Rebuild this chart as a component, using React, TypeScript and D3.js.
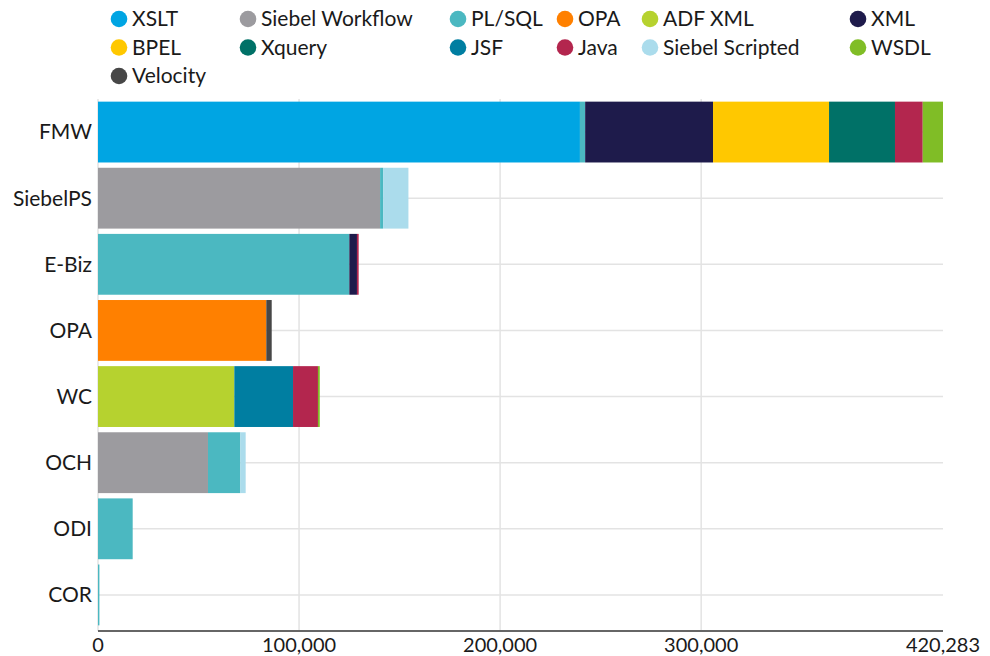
import React from "react";
import * as d3 from "d3";

const categories = ["FMW", "SiebelPS", "E-Biz", "OPA", "WC", "OCH", "ODI", "COR"];
const seriesKeys = [
  "XSLT", "Siebel Workflow", "PL/SQL", "OPA", "ADF XML", "XML",
  "BPEL", "Xquery", "JSF", "Java", "Siebel Scripted", "WSDL", "Velocity",
];
const seriesColors = [
  "#00a5e3", "#9c9b9f", "#4bb8c1", "#ff8000", "#b6d22f", "#1e1b4b",
  "#ffc800", "#007167", "#007ea1", "#b3264e", "#abdcec", "#80bd26", "#474747",
];
// values per category, in seriesKeys order
const XSLT = [239700, 0, 0, 0, 0, 0, 0, 0];
const SiebelWorkflow = [0, 140300, 0, 0, 0, 54700, 0, 0];
const PLSQL = [2600, 1500, 125000, 0, 0, 16100, 17250, 700];
const OPAv = [0, 0, 0, 83700, 0, 0, 0, 0];
const ADFXML = [0, 0, 0, 0, 67800, 0, 0, 0];
const XMLv = [63600, 0, 3800, 0, 0, 0, 0, 0];
const BPEL = [57700, 0, 0, 0, 0, 0, 0, 0];
const Xquery = [32800, 0, 0, 0, 0, 0, 0, 0];
const JSF = [0, 0, 0, 0, 29200, 0, 0, 0];
const Java = [13800, 0, 850, 0, 12400, 0, 0, 0];
const SiebelScripted = [0, 12600, 0, 0, 0, 2650, 0, 0];
const WSDL = [10083, 0, 0, 0, 900, 0, 0, 0];
const Velocity = [0, 0, 0, 2700, 0, 0, 0, 0];
const seriesValues = [
  XSLT, SiebelWorkflow, PLSQL, OPAv, ADFXML, XMLv, BPEL, Xquery, JSF, Java,
  SiebelScripted, WSDL, Velocity,
];
const tickValues = [0, 100000, 200000, 300000];
const maxValue = 420283;

const FONT = "'Source Sans Pro', Lato, 'Open Sans', sans-serif";

export default function App() {
  const W = 990, H = 656;
  const left = 98, right = 943;
  const x = d3.scaleLinear().domain([0, maxValue]).range([left, right]);
  const y = d3.scaleBand<string>().domain(categories).range([99, 628])
    .paddingInner(0.08).paddingOuter(0.04);

  const rows = categories.map((c, i) => {
    const r: Record<string, any> = { cat: c };
    seriesKeys.forEach((k, j) => (r[k] = seriesValues[j][i]));
    return r;
  });
  const stacked = d3.stack<any>().keys(seriesKeys)(rows);
  const color = d3.scaleOrdinal<string, string>().domain(seriesKeys).range(seriesColors);
  const fmt = d3.format(",");

  const legendCols = [119, 248, 458, 565, 650, 858];
  const legendRows = [19, 47.5, 76];

  return (
    <svg width={W} height={H} style={{ position: "absolute", left: 0, top: 0 }} fontFamily={FONT}>
      {categories.map((c) => (
        <line key={"hg" + c} x1={left} x2={right}
          y1={y(c)! + y.bandwidth() / 2} y2={y(c)! + y.bandwidth() / 2}
          stroke="#e3e3e3" strokeWidth={1.5} />
      ))}
      {tickValues.map((t) => (
        <line key={"vg" + t} x1={x(t)} x2={x(t)} y1={99} y2={631}
          stroke="#e3e3e3" strokeWidth={1.5} />
      ))}
      {stacked.map((s) => (
        <g key={s.key} fill={color(s.key)}>
          {s.map((d, i) => {
            const w = x(d[1]) - x(d[0]);
            if (w <= 0) return null;
            return (
              <rect key={i} x={x(d[0])} y={y(categories[i])!} width={w}
                height={y.bandwidth()} />
            );
          })}
        </g>
      ))}
      <line x1={left} x2={right} y1={631} y2={631} stroke="#666" strokeWidth={2} />
      {[...tickValues, maxValue].map((t) => (
        <text key={"t" + t} x={x(t)} y={652} textAnchor="middle" fontSize={20} fill="#1a1a1a">
          {fmt(t)}
        </text>
      ))}
      {categories.map((c) => (
        <text key={"c" + c} x={92} y={y(c)! + y.bandwidth() / 2} dy="0.35em"
          textAnchor="end" fontSize={21} fill="#1a1a1a">{c}</text>
      ))}
      {seriesKeys.map((k, i) => {
        const cx = legendCols[i % 6];
        const cy = legendRows[Math.floor(i / 6)];
        return (
          <g key={"l" + k}>
            <circle cx={cx} cy={cy} r={8.3} fill={color(k)} />
            <text x={cx + 13} y={cy} dy="0.35em" fontSize={21} fill="#1a1a1a">{k}</text>
          </g>
        );
      })}
    </svg>
  );
}
